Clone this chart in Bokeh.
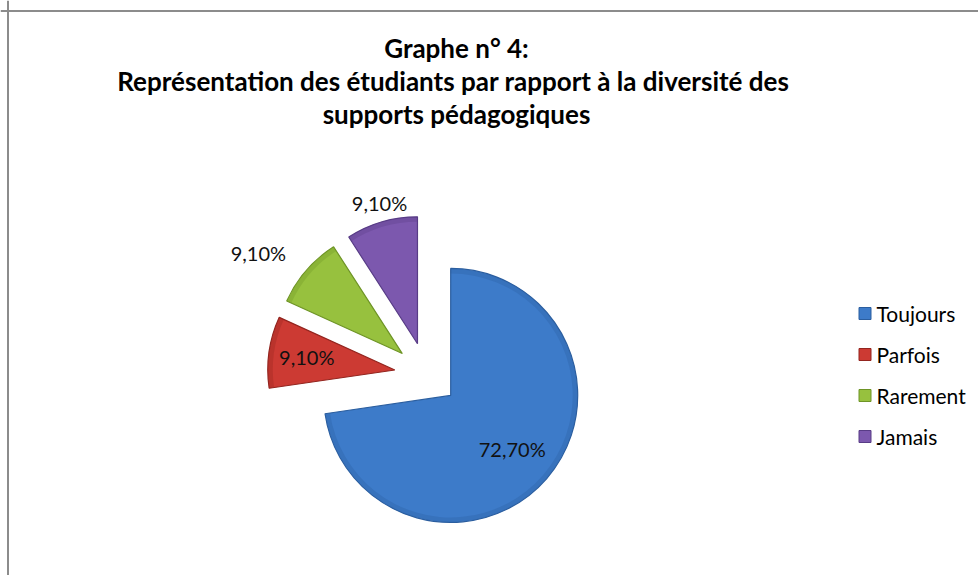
import numpy as np
from bokeh.plotting import figure
from bokeh.models import ColumnDataSource, Range1d, Span
from bokeh.core.properties import value
from bokeh.embed import file_html
from bokeh.resources import INLINE

# ---- data ----
categories = ["Toujours", "Parfois", "Rarement", "Jamais"]
percentages = [72.7, 9.1, 9.1, 9.1]
label_texts = ["72,70%", "9,10%", "9,10%", "9,10%"]
title_lines = [
    "Graphe n° 4:",
    "Représentation des étudiants par rapport  à la diversité des",
    "supports pédagogiques",
]

# ---- styles ----
colors = ["#3D7BC9", "#CC3A33", "#97C13E", "#7C58AE"]
edge_colors = ["#2B5E9F", "#93251F", "#6E9426", "#583C86"]
label_radius = [0.64, 0.70, 1.21, 1.06]     # fraction of radius from slice apex
label_outside = [False, False, True, True]

W, H = 978, 575
CX, CY, R, EXPLODE = 426, 201, 127, 32
FONT = "Lato"

p = figure(width=W, height=H, output_backend="svg", toolbar_location=None,
           x_range=Range1d(0, W), y_range=Range1d(0, H), min_border=0,
           tools="")
p.axis.visible = False
p.grid.visible = False
p.outline_line_color = None
p.background_fill_color = "white"

# chart frame (only top and left edges fall inside the picture)
p.add_layout(Span(location=H - 10.5, dimension="width", line_color="#8c8c8c", line_width=2))
p.add_layout(Span(location=7.5, dimension="height", line_color="#8c8c8c", line_width=2))

vals = np.array(percentages, dtype=float)
frac = vals / vals.sum()
end_t = np.cumsum(frac) * 2 * np.pi          # clockwise from 12 o'clock
start_t = end_t - frac * 2 * np.pi
mid_t = (start_t + end_t) / 2
ux, uy = np.sin(mid_t), np.cos(mid_t)
apex_x = CX + EXPLODE * ux
apex_y = CY + EXPLODE * uy

src = ColumnDataSource(dict(
    x=apex_x, y=apex_y,
    start=np.pi / 2 - start_t, end=np.pi / 2 - end_t,
    color=colors, edge=edge_colors, cat=categories,
))
p.wedge(x="x", y="y", radius=R, start_angle="start", end_angle="end",
        direction="clock", fill_color="color", line_color="edge", line_width=1.2,
        source=src)
# bevel-like rim shading along the outer arc
p.annular_wedge(x="x", y="y", inner_radius=R - 5, outer_radius=R - 0.6,
                start_angle="start", end_angle="end", direction="clock",
                fill_color="edge", fill_alpha=0.3, line_color=None, source=src)

# data labels
lx, ly, al, bl = [], [], [], []
for i in range(len(vals)):
    k = label_radius[i]
    lx.append(apex_x[i] + k * R * ux[i])
    ly.append(apex_y[i] + k * R * uy[i])
    if label_outside[i]:
        al.append("center" if abs(ux[i]) < 0.5 else ("right" if ux[i] < 0 else "left"))
        bl.append("middle" if abs(uy[i]) < 0.8 else ("bottom" if uy[i] > 0 else "top"))
    else:
        al.append("center")
        bl.append("middle")
lsrc = ColumnDataSource(dict(x=lx, y=ly, t=label_texts, a=al, b=bl))
p.text(x="x", y="y", text="t", text_align="a", text_baseline="b",
       text_font=value(FONT), text_font_size="20px", text_color="#111111", source=lsrc)

# title
tsrc = ColumnDataSource(dict(
    x=[456] * len(title_lines),
    y=[H - 47 - 33 * i for i in range(len(title_lines))],
    t=title_lines,
))
p.text(x="x", y="y", text="t", text_align="center", text_baseline="middle",
       text_font=value(FONT), text_font_style="bold", text_font_size="26px",
       text_color="#000000", source=tsrc)

# legend
leg_top, leg_step = H - 313, 41
leg_y = [leg_top - i * leg_step for i in range(len(categories))]
gsrc = ColumnDataSource(dict(x=[864.5] * len(categories), tx=[876] * len(categories),
                             y=leg_y, c=colors, e=edge_colors, t=categories))
p.scatter(x="x", y="y", marker="square", size=12, fill_color="c", line_color="e",
          line_width=1, source=gsrc)
p.text(x="tx", y="y", text="t", text_align="left", text_baseline="middle",
       text_font=value(FONT), text_font_size="21px", text_color="#000000", source=gsrc)

open("out.html", "w").write(file_html(p, INLINE))
